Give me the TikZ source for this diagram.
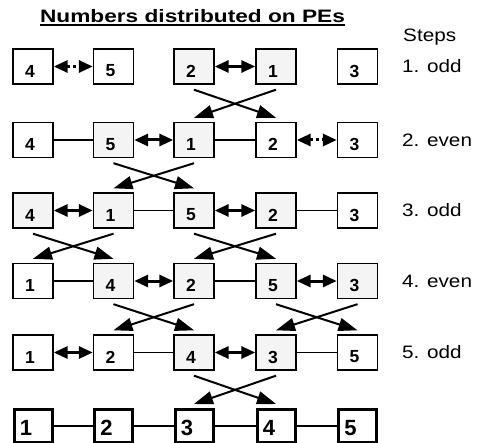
\documentclass[tikz,border=0pt]{standalone}
\usepackage{fontspec}
\setmainfont{Liberation Sans}
\newfontfamily\widesans{Liberation Sans}[FakeStretch=1.26]
\newfontfamily\labelsans{Liberation Sans}[FakeStretch=1.15]
\usetikzlibrary{arrows.meta}
\definecolor{boxgray}{gray}{0.955}

\tikzset{
  pe/.style={draw, line width=1.4pt, fill=white, minimum width=40pt, minimum height=35pt, inner sep=0pt},
  busy/.style={pe, fill=boxgray},
  final/.style={pe, line width=3pt, minimum width=38pt, minimum height=33pt},
  num/.style={font=\bfseries\fontsize{17.5}{17.5}\selectfont, inner sep=0pt},
  bignum/.style={font=\bfseries\fontsize{22}{22}\selectfont, inner sep=0pt},
  link/.style={line width=1.3pt},
  swap/.style={line width=3pt, {Triangle[length=14pt,width=12pt]}-{Triangle[length=14pt,width=12pt]}},
  keep/.style={swap, dash pattern=on 3pt off 3pt},
  move/.style={line width=2pt, -{Triangle[length=19pt,width=13pt]}},
  steplabel/.style={font=\labelsans\fontsize{18}{18}\selectfont, anchor=west, inner sep=0pt},
}

% one processing element: box plus its value
\newcommand\peunit[5]{%
  \node[#2] (#1) at (#3,#4) {};
  \node[num] (#1n) at ([shift={(-3pt,-4.5pt)}]#1.center) {#5};
}
\newcommand\pefinal[4]{%
  \node[final] (#1) at (#2,#3) {};
  \node[bignum] (#1n) at ([shift={(-7pt,-2pt)}]#1.center) {#4};
}

\begin{document}
\begin{tikzpicture}[x=1pt, y=-1pt]
\useasboundingbox (0,0) rectangle (478,443);

% title and step column
\node[font=\widesans\bfseries\fontsize{18}{18}\selectfont, anchor=base, inner sep=0pt] (title) at (192.5,23) {Numbers distributed on PEs};
\draw[line width=1.3pt] ([yshift=-2pt]title.base west) -- ([yshift=-2pt]title.base east);
\node[font=\labelsans\fontsize{18}{18}\selectfont, anchor=base west, inner sep=0pt] (steps) at (403,41.5) {Steps};

% row 1
\peunit{a1}{pe}{33}{66.5}{4}
\peunit{a2}{pe}{113.5}{66.5}{5}
\peunit{a3}{busy}{194}{66.5}{2}
\peunit{a4}{busy}{276}{66.5}{1}
\peunit{a5}{pe}{357.5}{66.5}{3}
% row 2
\peunit{b1}{pe}{33}{140}{4}
\peunit{b2}{busy}{113.5}{140}{5}
\peunit{b3}{busy}{194}{140}{1}
\peunit{b4}{pe}{276}{140}{2}
\peunit{b5}{pe}{357.5}{140}{3}
% row 3
\peunit{c1}{busy}{33}{210.5}{4}
\peunit{c2}{busy}{113.5}{210.5}{1}
\peunit{c3}{busy}{194}{210.5}{5}
\peunit{c4}{busy}{276}{210.5}{2}
\peunit{c5}{pe}{357.5}{210.5}{3}
% row 4
\peunit{d1}{pe}{33}{281}{1}
\peunit{d2}{busy}{113.5}{281}{4}
\peunit{d3}{busy}{194}{281}{2}
\peunit{d4}{busy}{276}{281}{5}
\peunit{d5}{busy}{357.5}{281}{3}
% row 5
\peunit{e1}{pe}{33}{352.5}{1}
\peunit{e2}{pe}{113.5}{352.5}{2}
\peunit{e3}{busy}{194}{352.5}{4}
\peunit{e4}{busy}{276}{352.5}{3}
\peunit{e5}{pe}{357.5}{352.5}{5}
% sorted result
\pefinal{f1}{33}{426}{1}
\pefinal{f2}{113.5}{426}{2}
\pefinal{f3}{194}{426}{3}
\pefinal{f4}{276}{426}{4}
\pefinal{f5}{357.5}{426}{5}

% step names
\node[steplabel] (s1) at (402,66.5) {1. odd};
\node[steplabel] (s2) at (402,140) {2. even};
\node[steplabel] (s3) at (402,210.5) {3. odd};
\node[steplabel] (s4) at (402,281) {4. even};
\node[steplabel] (s5) at (402,352.5) {5. odd};

% compare-exchange pairs and plain neighbour links
\draw[keep] (a1) -- (a2);
\draw[swap] (a3) -- (a4);

\draw[link] (b1) -- (b2);
\draw[swap] (b2) -- (b3);
\draw[link] (b3) -- (b4);
\draw[keep] (b4) -- (b5);

\draw[swap] (c1) -- (c2);
\draw[link] (c2) -- (c3);
\draw[swap] (c3) -- (c4);
\draw[link] (c4) -- (c5);

\draw[link] (d1) -- (d2);
\draw[swap] (d2) -- (d3);
\draw[link] (d3) -- (d4);
\draw[swap] (d4) -- (d5);

\draw[swap] (e1) -- (e2);
\draw[link] (e2) -- (e3);
\draw[swap] (e3) -- (e4);
\draw[link] (e4) -- (e5);

\draw[link] (f1) -- (f2);
\draw[link] (f2) -- (f3);
\draw[link] (f3) -- (f4);
\draw[link] (f4) -- (f5);

% exchanged values moving to the next step
\draw[move] ([yshift=-5pt]a3.south) -- ([yshift=4pt]b4.north);
\draw[move] ([yshift=-5pt]a4.south) -- ([yshift=4pt]b3.north);

\draw[move] ([yshift=-5pt]b2.south) -- ([yshift=4pt]c3.north);
\draw[move] ([yshift=-5pt]b3.south) -- ([yshift=4pt]c2.north);

\draw[move] ([yshift=-5pt]c1.south) -- ([yshift=4pt]d2.north);
\draw[move] ([yshift=-5pt]c2.south) -- ([yshift=4pt]d1.north);
\draw[move] ([yshift=-5pt]c3.south) -- ([yshift=4pt]d4.north);
\draw[move] ([yshift=-5pt]c4.south) -- ([yshift=4pt]d3.north);

\draw[move] ([yshift=-5pt]d2.south) -- ([yshift=4pt]e3.north);
\draw[move] ([yshift=-5pt]d3.south) -- ([yshift=4pt]e2.north);
\draw[move] ([yshift=-5pt]d4.south) -- ([yshift=4pt]e5.north);
\draw[move] ([yshift=-5pt]d5.south) -- ([yshift=4pt]e4.north);

\draw[move] ([yshift=-5pt]e3.south) -- ([yshift=4pt]f4.north);
\draw[move] ([yshift=-5pt]e4.south) -- ([yshift=4pt]f3.north);
\end{tikzpicture}
\end{document}
